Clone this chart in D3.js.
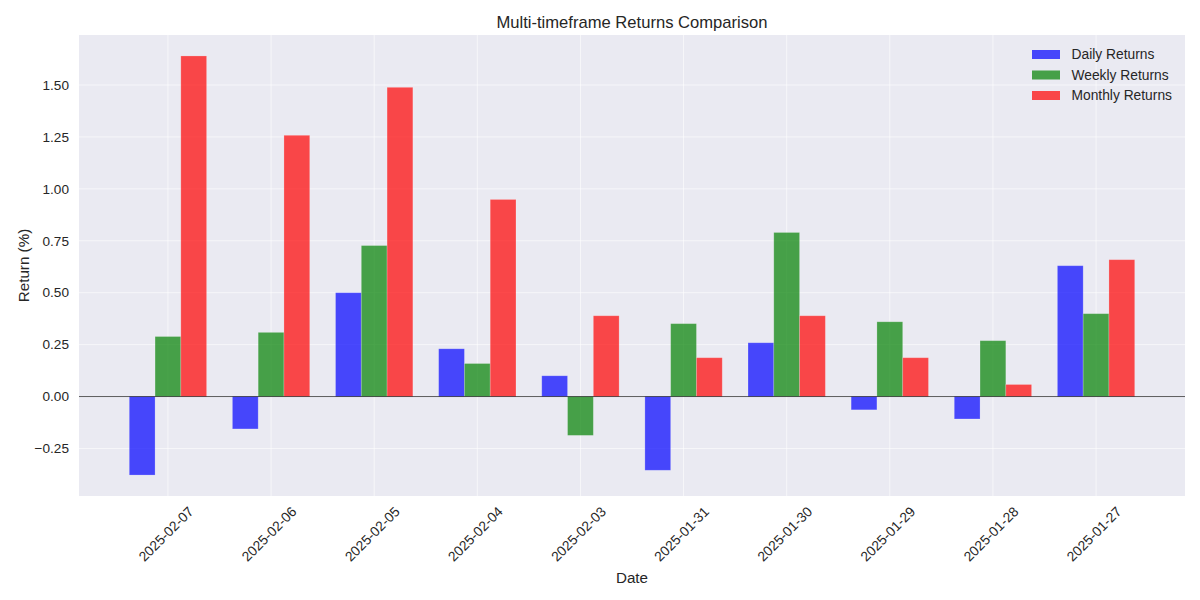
<!DOCTYPE html>
<html>
<head>
<meta charset="utf-8">
<script src="https://cdn.jsdelivr.net/npm/d3@7"></script>
<style>
  body { margin: 0; background: #fff; }
  text { font-family: "Liberation Sans", Arial, sans-serif; fill: #262626; }
</style>
</head>
<body>
<script>
// dates as they appear on the x axis (newest first)
var dates = ["2025-02-07", "2025-02-06", "2025-02-05", "2025-02-04", "2025-02-03",
             "2025-01-31", "2025-01-30", "2025-01-29", "2025-01-28", "2025-01-27"];

var seriesNames = ["Daily Returns", "Weekly Returns", "Monthly Returns"];
var seriesColors = ["blue", "green", "red"];

var dailyReturns   = [-0.378, -0.156, 0.500, 0.230, 0.100, -0.355, 0.259, -0.064, -0.108, 0.630];
var weeklyReturns  = [0.289, 0.309, 0.727, 0.159, -0.187, 0.351, 0.790, 0.360, 0.269, 0.399];
var monthlyReturns = [1.640, 1.258, 1.489, 0.949, 0.389, 0.187, 0.389, 0.187, 0.058, 0.659];

var yTicks = [-0.25, 0, 0.25, 0.5, 0.75, 1.0, 1.25, 1.5];

var allSeries = [dailyReturns, weeklyReturns, monthlyReturns];

var width = 1200, height = 600;
var margin = {top: 35, right: 15, bottom: 104, left: 79};
var barW = 0.25;

var svg = d3.select("body").append("svg")
    .attr("width", width)
    .attr("height", height);

// x is a linear scale in category units, like matplotlib's bar positions
var x = d3.scaleLinear()
    .domain([-0.8625, dates.length - 1 + 0.8625])
    .range([margin.left, width - margin.right]);

var allVals = dailyReturns.concat(weeklyReturns, monthlyReturns);
var yMin = d3.min(allVals), yMax = d3.max(allVals);
var pad = (yMax - yMin) * 0.05;
var y = d3.scaleLinear()
    .domain([yMin - pad, yMax + pad])
    .range([height - margin.bottom, margin.top]);

// background
svg.append("rect")
    .attr("x", margin.left)
    .attr("y", margin.top)
    .attr("width", x.range()[1] - x.range()[0])
    .attr("height", y.range()[0] - y.range()[1])
    .attr("fill", "#EAEAF2");

// grid
svg.append("g").selectAll("line")
    .data(yTicks)
    .enter().append("line")
        .attr("x1", x.range()[0]).attr("x2", x.range()[1])
        .attr("y1", function(d) { return y(d); })
        .attr("y2", function(d) { return y(d); })
        .attr("stroke", "#fff").attr("stroke-width", 1).attr("stroke-opacity", 0.6);

svg.append("g").selectAll("line")
    .data(dates)
    .enter().append("line")
        .attr("x1", function(d, i) { return x(i); })
        .attr("x2", function(d, i) { return x(i); })
        .attr("y1", y.range()[0]).attr("y2", y.range()[1])
        .attr("stroke", "#fff").attr("stroke-width", 1).attr("stroke-opacity", 0.6);

// bars
allSeries.forEach(function(vals, s) {
    svg.append("g").selectAll("rect")
        .data(vals)
        .enter().append("rect")
            .attr("x", function(d, i) { return x(i + (s - 1) * barW - barW / 2); })
            .attr("width", x(barW) - x(0))
            .attr("y", function(d) { return y(Math.max(0, d)); })
            .attr("height", function(d) { return Math.abs(y(d) - y(0)); })
            .attr("fill", seriesColors[s])
            .attr("fill-opacity", 0.7)
            .attr("stroke", "#fff")
            .attr("stroke-opacity", 0.25)
            .attr("stroke-width", 0.8);
});

// zero line
svg.append("line")
    .attr("x1", x.range()[0]).attr("x2", x.range()[1])
    .attr("y1", y(0)).attr("y2", y(0))
    .attr("stroke", "#000").attr("stroke-opacity", 0.7).attr("stroke-width", 0.9);

// y axis labels
var fmt = d3.format(".2f");
svg.append("g").selectAll("text")
    .data(yTicks)
    .enter().append("text")
        .attr("x", margin.left - 10)
        .attr("y", function(d) { return y(d); })
        .attr("dy", "0.35em")
        .attr("text-anchor", "end")
        .style("font-size", "13.6px")
        .text(function(d) { return fmt(d).replace("-", "\u2212"); });

// x axis labels, rotated 45
svg.append("g").selectAll("text")
    .data(dates)
    .enter().append("text")
        .attr("transform", function(d, i) { return "translate(" + (x(i) - 2) + ",534) rotate(-45)"; })
        .attr("text-anchor", "middle")
        .attr("dy", "0.35em")
        .style("font-size", "13.8px")
        .text(function(d) { return d; });

// titles
svg.append("text")
    .attr("x", (x.range()[0] + x.range()[1]) / 2)
    .attr("y", 27.5)
    .attr("text-anchor", "middle")
    .style("font-size", "16.6px")
    .text("Multi-timeframe Returns Comparison");

svg.append("text")
    .attr("x", (x.range()[0] + x.range()[1]) / 2)
    .attr("y", 582.5)
    .attr("text-anchor", "middle")
    .style("font-size", "15.2px")
    .text("Date");

svg.append("text")
    .attr("transform", "translate(24," + (y.range()[0] + y.range()[1]) / 2 + ") rotate(-90)")
    .attr("text-anchor", "middle")
    .attr("dy", "0.35em")
    .style("font-size", "15.2px")
    .text("Return (%)");

// legend
var legend = svg.append("g").selectAll("g")
    .data(seriesNames)
    .enter().append("g")
        .attr("transform", function(d, i) { return "translate(1032," + (54.5 + i * 20.5) + ")"; });

legend.append("rect")
    .attr("x", 0).attr("y", -4.5)
    .attr("width", 28).attr("height", 9)
    .attr("fill", function(d, i) { return seriesColors[i]; })
    .attr("fill-opacity", 0.7);

legend.append("text")
    .attr("x", 39.5)
    .attr("dy", "0.35em")
    .style("font-size", "13.8px")
    .text(function(d) { return d; });
</script>
</body>
</html>
